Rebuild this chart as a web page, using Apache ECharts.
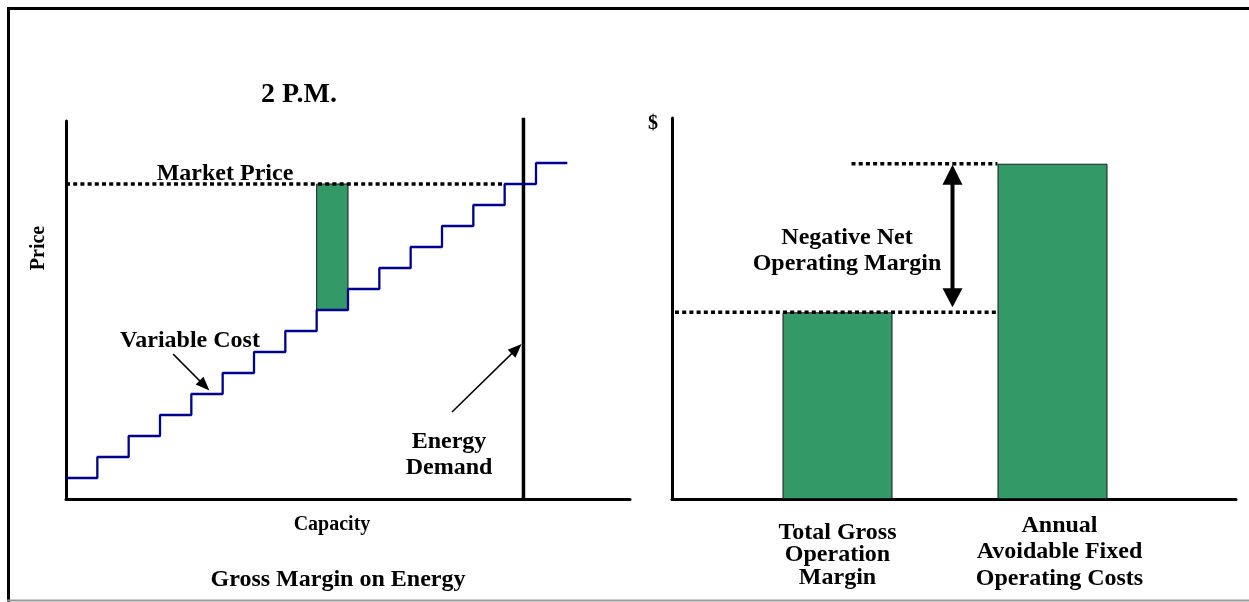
<!DOCTYPE html>
<html>
<head>
<meta charset="utf-8">
<script src="https://cdn.jsdelivr.net/npm/echarts@6/dist/echarts.min.js"></script>
<style>
  html, body { margin: 0; padding: 0; background: #fff; }
  #chart { width: 1249px; height: 602px; }
</style>
</head>
<body>
<div id="chart"></div>
<script>
// ---- Supply stack at 2 P.M. ----
// Block boundaries along the capacity axis and the variable cost of each block
const capacityBlocks = [0, 1, 2, 3, 4, 5, 6, 7, 8, 9, 10, 11, 12, 13, 14, 15, 16];
const variableCost   = [1, 2, 3, 4, 5, 6, 7, 8, 9, 10, 11, 12, 13, 14, 15, 16];
const marketPrice = 15;
const energyDemand = 14.6;
const marginBlock = 8;          // unit whose gross margin is shaded
const capacityMax = 18;
const priceMax = 18;

// ---- Annual comparison ----
const marginCategories = ['Total Gross\nOperation\nMargin', 'Annual\nAvoidable Fixed\nOperating Costs'];
const marginValues = [49, 88];  // gross operating margin, avoidable fixed costs
const dollarMax = 100;

const FONT = '"Liberation Serif", "Times New Roman", serif';
const GREEN = '#339966';
const NAVY = '#00008f';

// step curve points: each block's cost holds until the next boundary
const stepData = capacityBlocks.map((x, i) => [x, variableCost[Math.min(i, variableCost.length - 1)]]);
// first block that reaches the market price: dotted price line stops there
const priceIdx = variableCost.findIndex(v => v >= marketPrice);

const chart = echarts.init(document.getElementById('chart'), null, { renderer: 'canvas' });

const axisLine = { show: true, lineStyle: { color: '#000', width: 3 } };
const bare = { axisTick: { show: false }, axisLabel: { show: false }, splitLine: { show: false } };

function txt(text, x, y, size, extra) {
  return Object.assign({
    type: 'text', x: x, y: y, z: 50,
    style: Object.assign({
      text: text, fill: '#000', align: 'center', verticalAlign: 'middle',
      font: 'bold ' + size + 'px ' + FONT
    }, (extra && extra.style) || {})
  }, extra && extra.rotation !== undefined ? { rotation: extra.rotation } : {});
}

const catStyle = { fontFamily: FONT, fontWeight: 'bold', fontSize: 24, color: '#000', align: 'center' };

const option = {
  animation: false,
  backgroundColor: '#fff',
  grid: [
    { left: 66, top: 121, width: 564, height: 378 },   // supply stack
    { left: 672, top: 118, width: 564, height: 381 },  // annual comparison axes
    { left: 730, top: 118, width: 430, height: 381 }   // annual comparison bars
  ],
  xAxis: [
    Object.assign({ type: 'value', gridIndex: 0, min: 0, max: capacityMax, axisLine: axisLine }, bare),
    Object.assign({ type: 'value', gridIndex: 1, min: 0, max: 1, axisLine: axisLine }, bare),
    {
      type: 'category', gridIndex: 2, data: marginCategories,
      axisLine: { show: false }, axisTick: { show: false }, splitLine: { show: false },
      axisLabel: {
        interval: 0, margin: 53, verticalAlign: 'middle',
        formatter: (value, idx) => {
          const lines = value.split('\n').map(s => '{' + (idx === 0 ? 'a' : 'b') + '|' + s + '}');
          // small spacer keeps the tighter three-line label a little lower
          if (idx === 0) lines.unshift('{s| }');
          return lines.join('\n');
        },
        rich: {
          s: { fontSize: 1, lineHeight: 6 },
          a: Object.assign({ lineHeight: 22.5 }, catStyle),
          b: Object.assign({ lineHeight: 26.5, padding: [0, 0, 0, 14] }, catStyle)
        }
      }
    }
  ],
  yAxis: [
    Object.assign({ type: 'value', gridIndex: 0, min: 0, max: priceMax, axisLine: axisLine }, bare),
    Object.assign({ type: 'value', gridIndex: 1, min: 0, max: dollarMax, axisLine: axisLine }, bare),
    { type: 'value', gridIndex: 2, min: 0, max: dollarMax, show: false }
  ],
  series: [
    {
      // market clearing price
      type: 'line', xAxisIndex: 0, yAxisIndex: 0, z: 3,
      data: [[capacityBlocks[0], marketPrice], [capacityBlocks[priceIdx], marketPrice]],
      symbol: 'none', silent: true,
      lineStyle: { color: '#000', width: 3.5, type: [4, 3.2], cap: 'butt' }
    },
    {
      // energy demand
      type: 'line', xAxisIndex: 0, yAxisIndex: 0, z: 4, clip: false,
      data: [[energyDemand, 0], [energyDemand, priceMax + 0.15]],
      symbol: 'none', silent: true,
      lineStyle: { color: '#000', width: 3.5 }
    },
    {
      // variable cost supply curve
      type: 'line', xAxisIndex: 0, yAxisIndex: 0, z: 5,
      step: 'end', data: stepData, symbol: 'none', silent: true,
      lineStyle: { color: NAVY, width: 2.3 },
      markArea: {
        silent: true,
        itemStyle: { color: GREEN, borderColor: '#1a1a1a', borderWidth: 1 },
        data: [[
          { coord: [capacityBlocks[marginBlock], variableCost[marginBlock]] },
          { coord: [capacityBlocks[marginBlock + 1], marketPrice] }
        ]]
      },
      markLine: {
        silent: true, animation: false,
        label: { show: false },
        lineStyle: { color: '#000', width: 1.5, type: 'solid' },
        symbol: ['none', 'triangle'], symbolSize: [11, 14],
        data: [
          [{ coord: [3.42, 6.9] }, { coord: [4.42, 5.4] }],
          [{ coord: [12.32, 4.14] }, { coord: [14.38, 7.15] }]
        ]
      }
    },
    {
      type: 'bar', xAxisIndex: 2, yAxisIndex: 2, z: 2,
      data: marginValues, barWidth: 110, silent: true,
      itemStyle: { color: GREEN, borderColor: '#1a1a1a', borderWidth: 1 }
    },
    {
      // reference levels and the gap between them
      type: 'custom', xAxisIndex: 2, yAxisIndex: 2, z: 10, silent: true,
      data: [[0, marginValues[0]]],
      renderItem: function (params, api) {
        const yG = api.coord([0, marginValues[0]])[1];
        const p2 = api.coord([1, marginValues[1]]);
        const yF = p2[1];
        const bar2Left = p2[0] - 55;
        const axisX = params.coordSys.x - 58 + 3;
        const ax = bar2Left - 45;
        const dot = { stroke: '#000', lineWidth: 3.5, lineDash: [4, 3.2], lineCap: 'butt' };
        return {
          type: 'group',
          children: [
            { type: 'line', shape: { x1: axisX, y1: yG, x2: bar2Left, y2: yG }, style: dot },
            { type: 'line', shape: { x1: bar2Left - 146, y1: yF, x2: bar2Left, y2: yF }, style: dot },
            { type: 'line', shape: { x1: ax, y1: yF + 18, x2: ax, y2: yG - 18 }, style: { stroke: '#000', lineWidth: 4 } },
            { type: 'polygon', shape: { points: [[ax, yF + 1], [ax - 10, yF + 21], [ax + 10, yF + 21]] }, style: { fill: '#000' } },
            { type: 'polygon', shape: { points: [[ax, yG - 5], [ax - 10, yG - 24], [ax + 10, yG - 24]] }, style: { fill: '#000' } }
          ]
        };
      }
    }
  ],
  graphic: [
    // outer frame
    { type: 'line', z: 60, shape: { x1: 8.5, y1: 7, x2: 8.5, y2: 602 }, style: { stroke: '#000', lineWidth: 3 } },
    { type: 'line', z: 60, shape: { x1: 7, y1: 8.5, x2: 1249, y2: 8.5 }, style: { stroke: '#000', lineWidth: 3 } },
    { type: 'line', z: 60, shape: { x1: 7, y1: 600.5, x2: 1249, y2: 600.5 }, style: { stroke: '#999', lineWidth: 2 } },
    txt('2 P.M.', 299, 95, 28),
    txt('Market Price', 225, 173.5, 24),
    txt('Variable Cost', 190, 340.5, 24),
    txt('Energy\nDemand', 449, 454.5, 24, { style: { lineHeight: 26 } }),
    txt('Price', 39, 248, 20, { rotation: Math.PI / 2 }),
    txt('Capacity', 332, 524.5, 20),
    txt('Gross Margin on Energy', 338, 580, 24),
    txt('$', 653, 124, 20),
    txt('Negative Net\nOperating Margin', 847, 251, 24, { style: { lineHeight: 26.5 } })
  ]
};

chart.setOption(option);
</script>
</body>
</html>
